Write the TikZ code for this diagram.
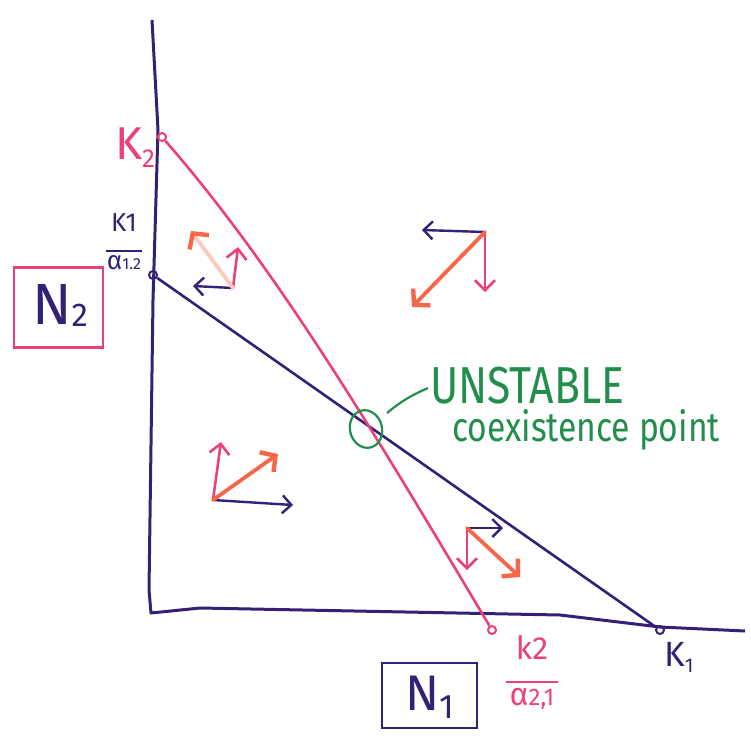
\documentclass[tikz,border=0pt]{standalone}
\usepackage{fontspec}
\setmainfont{Fira Sans}
\usetikzlibrary{arrows.meta,shapes.geometric}
\definecolor{navy}{RGB}{52,32,118}
\definecolor{pinkk}{RGB}{236,64,122}
\definecolor{orng}{RGB}{248,102,72}
\definecolor{grn}{RGB}{34,142,76}
\begin{document}
\begin{tikzpicture}[x=1pt,y=-1pt,
  dot/.style={circle,draw,inner sep=0pt,minimum size=8pt,line width=2pt},
  axisline/.style={navy,line width=3pt,line join=round},
  curveline/.style={line width=2.6pt},
  navyarr/.style={navy,line width=2.4pt,line cap=round,-{Straight Barb[length=9pt,width=18pt,line width=2.4pt]}},
  pinkarr/.style={pinkk,line width=2.6pt,line cap=round,-{Straight Barb[length=10pt,width=20pt,line width=2.6pt]}},
  orngarr/.style={orng,line width=3.8pt,line cap=round,-{Straight Barb[length=11pt,width=24pt,line width=4.4pt]}},
  lbl/.style={inner sep=0pt,align=center},
  box/.style={draw,line width=2.8pt,inner sep=0pt},
  hand/.style={grn,inner sep=0pt,anchor=base west}]
\useasboundingbox (0,0) rectangle (751,753);
% axes
\coordinate (ytop) at (152,20);
\coordinate (O) at (151,613);
\coordinate (xend) at (745,631);
\draw[axisline] (ytop) -- (158,130) -- (153,300) -- (149,590) -- (O) -- (200,608) -- (560,615) -- (660,627) -- (xend);
% intercept points
\node[dot,pinkk] (k2) at (162,137) {};
\node[dot,navy] (k1a) at (153,275) {};
\node[dot,navy] (k1) at (660,630) {};
\node[dot,pinkk] (k2a) at (492,630) {};
% isoclines
\draw[navy,curveline] (k1a) -- (k1);
\draw[pinkk,curveline] (k2) .. controls (280,272) and (382,446) .. (k2a);
% labels
\node[lbl,pinkk,font=\fontsize{46}{46}\selectfont] (lk2) at (135,148) {K\raisebox{-8pt}{\fontsize{26}{26}\selectfont 2}};
\node[lbl,navy,font=\fontsize{26}{26}\selectfont] (lk1a) at (124,242) {K1\\[-6pt]\rule{36pt}{1.8pt}\\[-8pt]α{\fontsize{16}{16}\selectfont 1.2}};
\node[lbl,pinkk,font=\fontsize{32}{32}\selectfont] (lk2a) at (532,672) {k2\\[-8pt]\rule{52pt}{1.8pt}\\[-10pt]α{\fontsize{24}{24}\selectfont 2,1}};
\node[lbl,navy,font=\fontsize{35}{35}\selectfont] (lk1) at (679,657) {K\raisebox{-6pt}{\fontsize{20}{20}\selectfont 1}};
% axis name boxes
\node[box,pinkk,minimum width=89pt,minimum height=80pt] (n2box) at (58.5,307.5) {};
\node[navy,inner sep=0pt,font=\fontsize{58}{58}\selectfont] (n2) at (60,306) {N\raisebox{-2pt}{\fontsize{33}{33}\selectfont 2}};
\node[box,navy,minimum width=95pt,minimum height=65pt] (n1box) at (429.5,695.5) {};
\node[navy,inner sep=0pt,font=\fontsize{50}{50}\selectfont] (n1) at (430,697) {N\raisebox{-8pt}{\fontsize{34}{34}\selectfont 1}};
% unstable point
\node[draw=grn,ellipse,line width=2.2pt,minimum width=32pt,minimum height=38pt,inner sep=0pt,rotate=15] (eq) at (366,429) {};
\coordinate (lead) at (387,413);
\node[hand,font=\fontsize{52}{52}\selectfont] (unst) at (430,403) {\scalebox{0.82}[1]{UNSTABLE}};
\node[hand,font=\fontsize{41}{41}\selectfont] (coex) at (452,441) {\scalebox{0.82}[1]{coexistence point}};
\draw[grn,line width=2.2pt] (lead) to[bend left=8] ([xshift=-2pt,yshift=-3pt]unst.west);
% direction arrows: top-left region
\coordinate (a0) at (233,288);
\coordinate (a1) at (193,286);
\coordinate (a2) at (238,247);
\coordinate (a3) at (191,231);
\draw[navyarr] (a0) -- (a1);
\draw[pinkarr] (a0) -- (a2);
\draw[orngarr,draw=orng!35,-{Straight Barb[length=11pt,width=24pt,line width=4.4pt,color=orng]}] (a0) -- (a3);
% top-right region
\coordinate (b0) at (485,232);
\coordinate (b1) at (422,230);
\coordinate (b2) at (485,292);
\coordinate (b3) at (412,307);
\draw[navyarr] (b0) -- (b1);
\draw[pinkarr] (b0) -- (b2);
\draw[orngarr] (b0) -- (b3);
% bottom-left region
\coordinate (c0) at (213,500);
\coordinate (c1) at (293,505);
\coordinate (c2) at (221,442);
\coordinate (c3) at (278,454);
\draw[navyarr] (c0) -- (c1);
\draw[pinkarr] (c0) -- (c2);
\draw[orngarr] (c0) -- (c3);
% bottom-right region
\coordinate (d0) at (467,528);
\coordinate (d1) at (503,528);
\coordinate (d2) at (467,570);
\coordinate (d3) at (520,577);
\draw[navyarr] (d0) -- (d1);
\draw[pinkarr] (d0) -- (d2);
\draw[orngarr] (d0) -- (d3);
\end{tikzpicture}
\end{document}
